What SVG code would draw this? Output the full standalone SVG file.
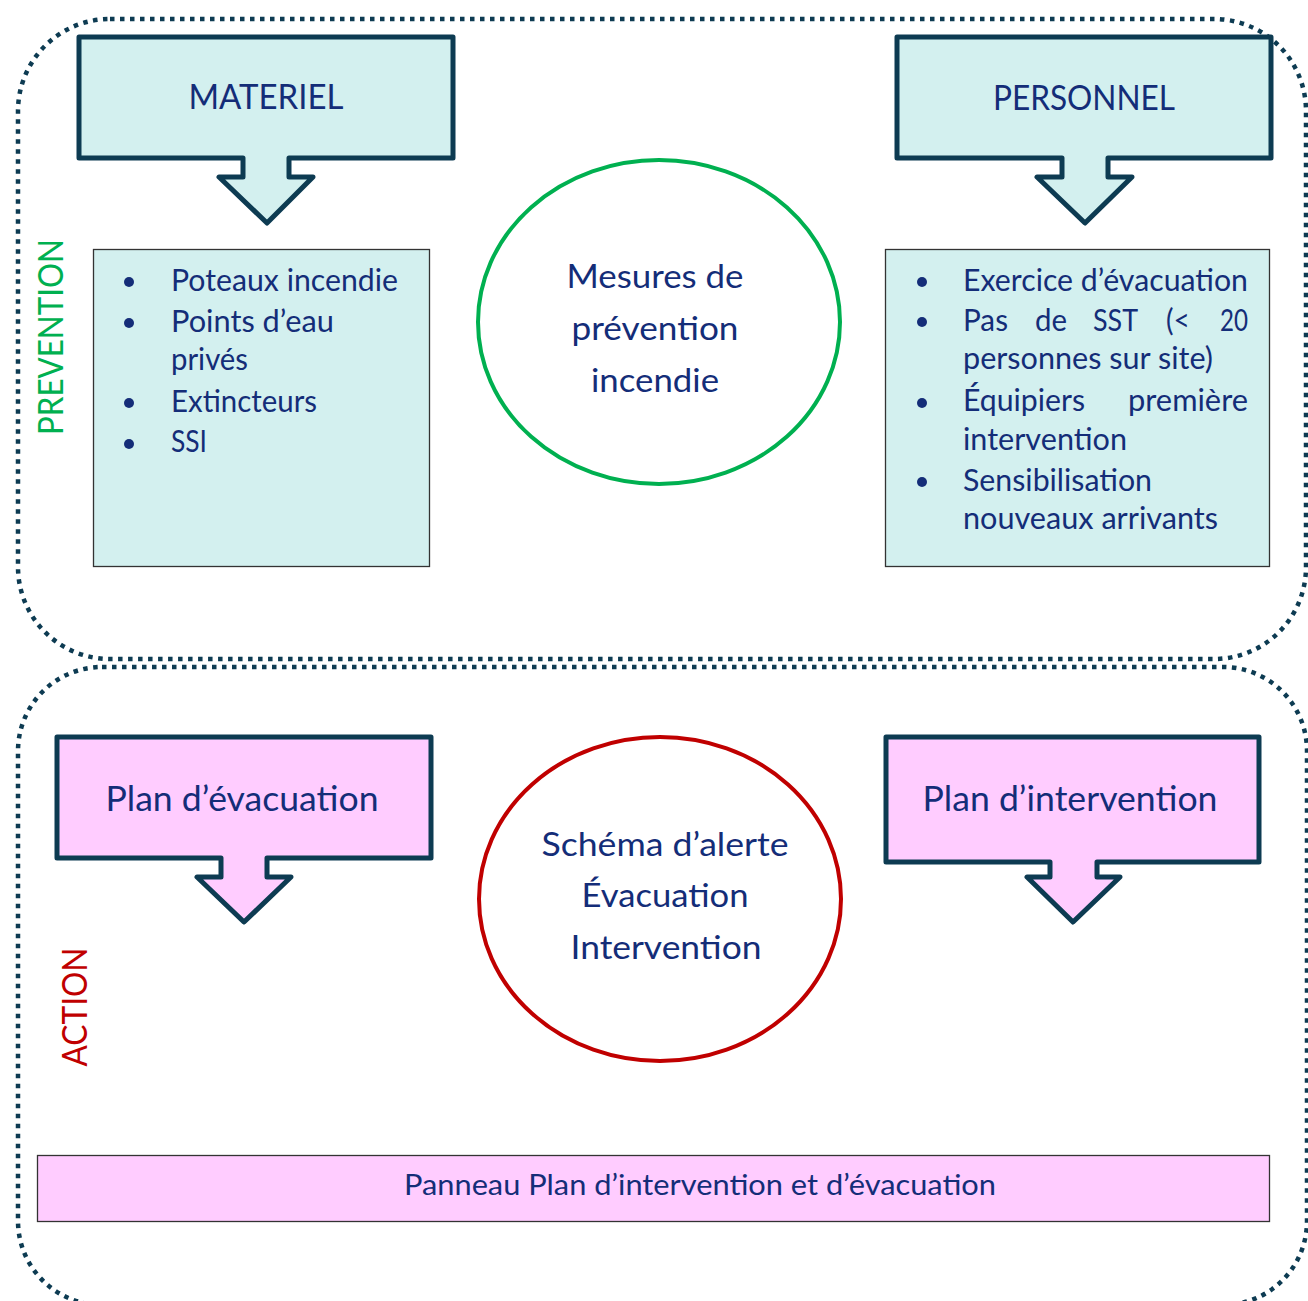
<svg xmlns="http://www.w3.org/2000/svg" width="1308" height="1301" viewBox="0 0 1308 1301">
<style>
.zone{fill:none;stroke:#0d3b52;stroke-width:4.5;stroke-dasharray:4.5 5.5}
.callout{stroke:#0d3b52;stroke-width:5;stroke-linejoin:round}
.teal{fill:#d3f0ef}
.pink{fill:#ffccff}
.box{stroke:#333;stroke-width:1.3}
.t{font-family:Lato,"Open Sans","Liberation Sans",sans-serif;fill:#142d78}
.h{font-size:35px}
.l{font-size:30px}
.c{font-size:33px}
.bul{fill:#142d78}
</style>
<rect width="1308" height="1301" fill="#fff"/>
<g id="zones">
<rect class="zone" x="18" y="19" width="1288" height="640" rx="92" ry="92"/>
<rect class="zone" x="18" y="667" width="1289" height="638" rx="84" ry="84"/>
</g>
<g id="prevention-label"><text class="t" x="0" y="0" transform="translate(63,337) rotate(-90)" text-anchor="middle" font-size="35" style="fill:#00b050" textLength="196" lengthAdjust="spacingAndGlyphs">PREVENTION</text></g>
<g id="action-label"><text class="t" x="0" y="0" transform="translate(87,1007) rotate(-90)" text-anchor="middle" font-size="34" style="fill:#c00000" textLength="119" lengthAdjust="spacingAndGlyphs">ACTION</text></g>
<g id="materiel">
<path class="callout teal" d="M79,37 H453 V158 H289 V177 H313 L267,223 L219,177 H243 V158 H79 Z"/>
<text class="t h" x="266" y="109" text-anchor="middle" textLength="155" lengthAdjust="spacingAndGlyphs">MATERIEL</text>
</g>
<g id="personnel">
<path class="callout teal" d="M897,37 H1271 V158 H1108 V177 H1132 L1085,223 L1037,177 H1062 V158 H897 Z"/>
<text class="t h" x="1084" y="110" text-anchor="middle" textLength="182" lengthAdjust="spacingAndGlyphs">PERSONNEL</text>
</g>
<g id="materiel-list">
<rect class="teal box" x="93.5" y="249.5" width="336" height="317"/>
<circle class="bul" cx="129" cy="282" r="5"/>
<circle class="bul" cx="129" cy="323" r="5"/>
<circle class="bul" cx="129" cy="403" r="5"/>
<circle class="bul" cx="129" cy="444" r="5"/>
<text class="t l" x="171" y="291" textLength="227" lengthAdjust="spacingAndGlyphs">Poteaux incendie</text>
<text class="t l" x="171" y="332" textLength="163" lengthAdjust="spacingAndGlyphs">Points d’eau</text>
<text class="t l" x="171" y="370" textLength="77" lengthAdjust="spacingAndGlyphs">privés</text>
<text class="t l" x="171" y="412" textLength="146" lengthAdjust="spacingAndGlyphs">Extincteurs</text>
<text class="t l" x="171" y="452" textLength="36" lengthAdjust="spacingAndGlyphs">SSI</text>
</g>
<g id="personnel-list">
<rect class="teal box" x="885.5" y="249.5" width="384" height="317"/>
<circle class="bul" cx="922" cy="282" r="5"/>
<circle class="bul" cx="922" cy="322" r="5"/>
<circle class="bul" cx="922" cy="403" r="5"/>
<circle class="bul" cx="922" cy="482" r="5"/>
<text class="t l" x="963" y="291" textLength="285" lengthAdjust="spacingAndGlyphs">Exercice d’évacuation</text>
<text class="t l" x="963" y="331" textLength="45" lengthAdjust="spacingAndGlyphs">Pas</text>
<text class="t l" x="1035" y="331" textLength="32" lengthAdjust="spacingAndGlyphs">de</text>
<text class="t l" x="1093" y="331" textLength="45" lengthAdjust="spacingAndGlyphs">SST</text>
<text class="t l" x="1166" y="331" textLength="24" lengthAdjust="spacingAndGlyphs">(&lt;</text>
<text class="t l" x="1220" y="331" textLength="28" lengthAdjust="spacingAndGlyphs">20</text>
<text class="t l" x="963" y="369" textLength="250" lengthAdjust="spacingAndGlyphs">personnes sur site)</text>
<text class="t l" x="963" y="411" textLength="122" lengthAdjust="spacingAndGlyphs">Équipiers</text>
<text class="t l" x="1128" y="411" textLength="120" lengthAdjust="spacingAndGlyphs">première</text>
<text class="t l" x="963" y="450" textLength="164" lengthAdjust="spacingAndGlyphs">intervention</text>
<text class="t l" x="963" y="491" textLength="189" lengthAdjust="spacingAndGlyphs">Sensibilisation</text>
<text class="t l" x="963" y="529" textLength="255" lengthAdjust="spacingAndGlyphs">nouveaux arrivants</text>
</g>
<g id="prevention-circle">
<ellipse cx="659" cy="322" rx="181" ry="162" fill="none" stroke="#00b050" stroke-width="4"/>
<text class="t c" x="655" y="288" text-anchor="middle" textLength="177" lengthAdjust="spacingAndGlyphs">Mesures de</text>
<text class="t c" x="655" y="340" text-anchor="middle" textLength="167" lengthAdjust="spacingAndGlyphs">prévention</text>
<text class="t c" x="655" y="392" text-anchor="middle" textLength="128" lengthAdjust="spacingAndGlyphs">incendie</text>
</g>
<g id="plan-evacuation">
<path class="callout pink" d="M57,737 H431 V858 H267 V877 H291 L244,922 L197,877 H221 V858 H57 Z"/>
<text class="t h" x="242" y="811" text-anchor="middle" textLength="273" lengthAdjust="spacingAndGlyphs">Plan d’évacuation</text>
</g>
<g id="plan-intervention">
<path class="callout pink" d="M886,737 H1259 V862 H1097 V877 H1120 L1073,922 L1027,877 H1050 V862 H886 Z"/>
<text class="t h" x="1070" y="811" text-anchor="middle" textLength="295" lengthAdjust="spacingAndGlyphs">Plan d’intervention</text>
</g>
<g id="action-circle">
<ellipse cx="660" cy="899" rx="181" ry="162" fill="none" stroke="#c00000" stroke-width="4"/>
<text class="t c" x="665" y="856" text-anchor="middle" textLength="247" lengthAdjust="spacingAndGlyphs">Schéma d’alerte</text>
<text class="t c" x="665" y="907" text-anchor="middle" textLength="167" lengthAdjust="spacingAndGlyphs">Évacuation</text>
<text class="t c" x="666" y="959" text-anchor="middle" textLength="191" lengthAdjust="spacingAndGlyphs">Intervention</text>
</g>
<g id="panneau">
<rect class="pink box" x="37.5" y="1155.5" width="1232" height="66"/>
<text class="t" x="700" y="1195" font-size="29" text-anchor="middle" textLength="592" lengthAdjust="spacingAndGlyphs">Panneau Plan d’intervention et d’évacuation</text>
</g>
<g id="connectors"></g>
</svg>
